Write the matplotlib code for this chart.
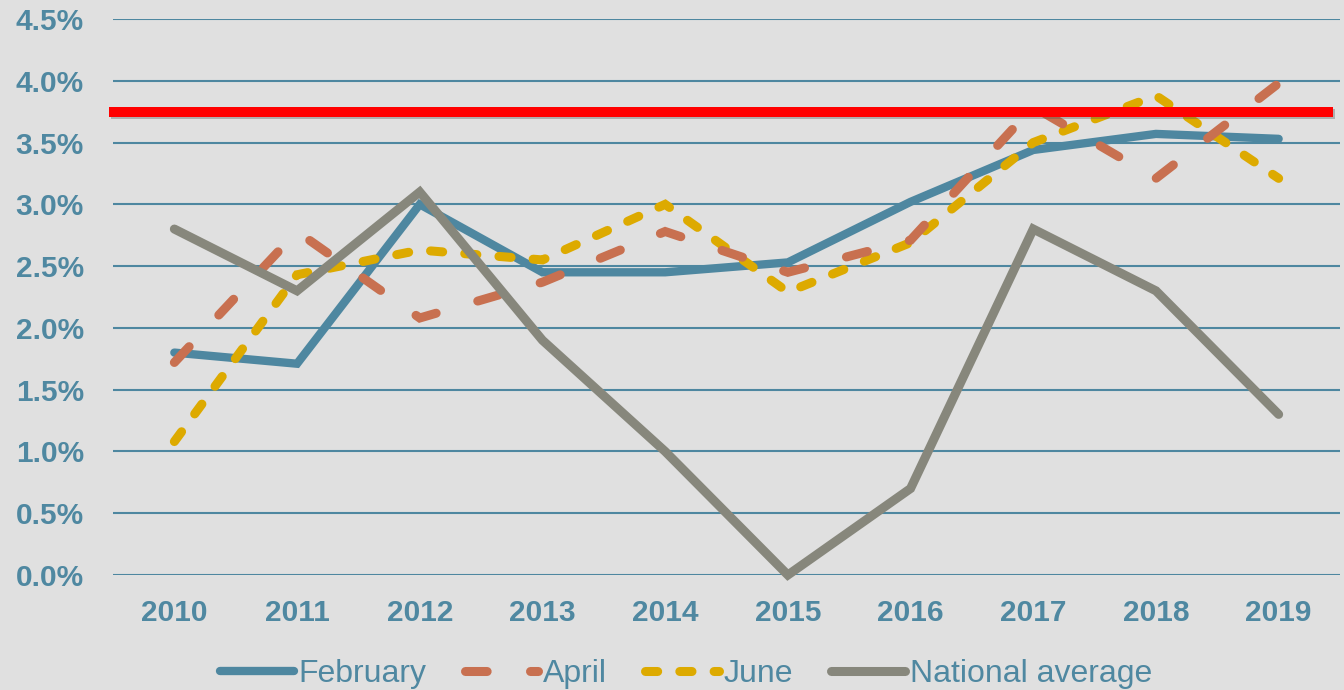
import matplotlib
matplotlib.use("Agg")
import matplotlib.pyplot as plt
import matplotlib.patheffects as pe
from matplotlib.ticker import FuncFormatter, MultipleLocator
import matplotlib.transforms as mtransforms

years = ["2010", "2011", "2012", "2013", "2014", "2015", "2016", "2017", "2018", "2019"]
february = [1.80, 1.71, 3.00, 2.45, 2.45, 2.53, 3.02, 3.44, 3.57, 3.53]
april = [1.72, 2.78, 2.08, 2.37, 2.78, 2.45, 2.71, 3.79, 3.21, 3.98]
june = [1.08, 2.43, 2.63, 2.55, 3.00, 2.29, 2.69, 3.50, 3.88, 3.21]
national = [2.80, 2.30, 3.10, 1.90, 1.00, 0.00, 0.70, 2.80, 2.30, 1.30]
target = 3.75

BG = "#E0E0E0"
TXT = "#4F88A1"
C_FEB = "#4E87A0"
C_APR = "#C87050"
C_JUN = "#DDAA00"
C_NAT = "#87877C"

plt.rcParams['font.family'] = ['Liberation Sans', 'DejaVu Sans']

fig = plt.figure(figsize=(13.44, 6.9), dpi=100, facecolor=BG)
ax = fig.add_axes([113/1344, 1-575/690, (1340-113)/1344, (575-19)/690])
ax.set_facecolor(BG)

x = list(range(len(years)))
common = dict(solid_capstyle='round', dash_capstyle='round',
              solid_joinstyle='miter', dash_joinstyle='miter', clip_on=False)

l1, = ax.plot(x, february, color=C_FEB, lw=6.0, label="February", zorder=3, **common)
l3, = ax.plot(x, june, color=C_JUN, lw=6.5, label="June", zorder=4,
              dashes=(1.35, 2.45), **common)
l2, = ax.plot(x, april, color=C_APR, lw=6.5, label="April", zorder=5,
              dashes=(2.4, 4.8), **common)
l4, = ax.plot(x, national, color=C_NAT, lw=6.5, label="National average", zorder=6, **common)

trans = mtransforms.blended_transform_factory(ax.transAxes, ax.transData)
ax.plot([-4/1227, 1220/1227], [target, target], transform=trans, color="#FF0000",
        lw=7.2, solid_capstyle='butt', zorder=7, clip_on=False,
        path_effects=[pe.SimpleLineShadow(offset=(1.5, -1.5), shadow_color='#555555', alpha=0.35),
                      pe.Normal()])

ax.set_xlim(-0.5, 9.5)
ax.set_ylim(0, 4.5)
ax.yaxis.set_major_locator(MultipleLocator(0.5))
ax.yaxis.set_major_formatter(FuncFormatter(lambda v, p: f"{v:.1f}%"))
ax.set_xticks(x)
ax.set_xticklabels(years)
ax.grid(axis='y', color=C_FEB, lw=1.5, zorder=0)
ax.set_axisbelow(True)
for s in ax.spines.values():
    s.set_visible(False)
ax.tick_params(axis='both', length=0, labelsize=21.5, labelcolor=TXT)
ax.tick_params(axis='y', pad=21)
ax.tick_params(axis='x', pad=17)
for lab in ax.get_xticklabels() + ax.get_yticklabels():
    lab.set_fontweight('bold')

leg = fig.legend(handles=[l1, l2, l3, l4], loc='center', bbox_to_anchor=(686/1344, 1-674/690),
                 ncol=4, frameon=False, fontsize=23, handlelength=2.3, handletextpad=0.15,
                 columnspacing=1.2, borderaxespad=0, borderpad=0)
for t in leg.get_texts():
    t.set_color(TXT)

fig.savefig("out.png", dpi=100, facecolor=BG)
